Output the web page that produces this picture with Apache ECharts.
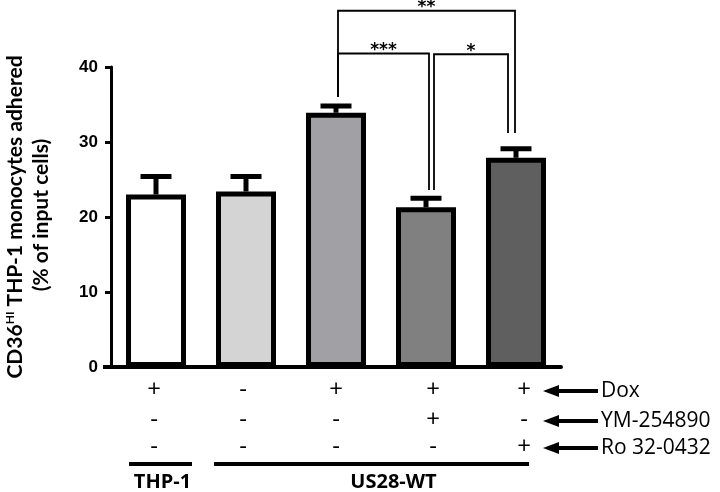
<!DOCTYPE html>
<html><head><meta charset="utf-8">
<script src="https://cdn.jsdelivr.net/npm/echarts@6/dist/echarts.min.js"></script>
<style>html,body{margin:0;padding:0;background:#fff}#c{width:720px;height:492px}</style>
</head><body><div id="c"></div>
<script>
// ---- data ----
const categories = ['THP-1', 'US28-WT', 'US28-WT + Dox', 'US28-WT + Dox + YM-254890', 'US28-WT + Dox + Ro 32-0432'];
const means = [23.0, 23.4, 33.9, 21.3, 27.9];
const sems = [2.4, 2.0, 0.9, 1.2, 1.2];
const yTicks = [0, 10, 20, 30, 40];
const yTitleMain = 'CD36';
const yTitleSup = 'HI';
const yTitleRest = ' THP-1 monocytes adhered';
const yTitleLine2 = '(% of input cells)';
const treatments = ['Dox', 'YM-254890', 'Ro 32-0432'];
const doxSigns = ['+', '-', '+', '+', '+'];
const ymSigns = ['-', '-', '-', '+', '-'];
const roSigns = ['-', '-', '-', '-', '+'];
const groupNames = ['THP-1', 'US28-WT'];
// comparisons: [fromIndex, toIndex, bracketLevel, fromDrop, toDrop]
const comparisons = [[2, 4, 47.5, 36.0, 31.2], [2, 3, 41.8, 36.0, 23.6], [3, 4, 41.7, 23.6, 31.2]];
const comparisonLabels = ['**', '***', '*'];

// ---- styles ----
const barColors = ['#ffffff', '#d4d4d4', '#a1a1a5', '#808080', '#5f5f5f'];
const bracketOffsets = [[2, -1], [2, 3], [8, -8]];
const signOffsets = [-2, -3, 0, 7, 8];
const rowY = [390, 420, 447];

const chart = echarts.init(document.getElementById('c'));

chart.setOption({
  animation: false,
  backgroundColor: '#fff',
  grid: { left: 111, top: 67, width: 450, height: 300, outerBoundsMode: 'none', containLabel: false },
  xAxis: {
    type: 'category', data: categories,
    axisLine: { lineStyle: { color: '#000', width: 4 } },
    axisTick: { show: false }, axisLabel: { show: false }
  },
  yAxis: {
    type: 'value', min: 0, max: 40, interval: 10,
    axisLine: { show: true, lineStyle: { color: '#000', width: 3 } },
    axisTick: { show: true, length: 6, lineStyle: { color: '#000', width: 3 } },
    splitLine: { show: false },
    axisLabel: { margin: 13, color: '#000', fontFamily: 'Liberation Sans', fontWeight: 'bold', fontSize: 17,
      formatter: v => yTicks.includes(v) ? String(v) : '' }
  },
  series: [
    {
      type: 'bar', barWidth: 60, z: 2,
      data: means.map((v, i) => ({ value: v, itemStyle: { color: barColors[i], borderColor: '#000', borderWidth: 5 } }))
    },
    {
      type: 'custom', z: 3,
      data: means.map((m, i) => [i, m, sems[i]]),
      renderItem: (params, api) => {
        const x = api.value(0), m = api.value(1), e = api.value(2);
        const p0 = api.coord([x, m]);
        const p1 = api.coord([x, m + e]);
        return { type: 'group', children: [
          { type: 'rect', shape: { x: p0[0] - 2.5, y: p1[1], width: 5, height: p0[1] - p1[1] }, style: { fill: '#000' } },
          { type: 'rect', shape: { x: p0[0] - 15.5, y: p1[1] - 2.5, width: 31, height: 5 }, style: { fill: '#000' } }
        ] };
      }
    },
    {
      type: 'custom', z: 4, clip: false,
      data: comparisons,
      renderItem: (params, api) => {
        const i = params.dataIndex;
        const a = api.value(0), b = api.value(1), lvl = api.value(2), da = api.value(3), db = api.value(4);
        const off = bracketOffsets[i];
        const pa = api.coord([a, da]), pb = api.coord([b, db]);
        const pl = api.coord([a, lvl]);
        const xa = pa[0] + off[0], xb = pb[0] + off[1];
        return { type: 'group', children: [
          { type: 'polyline', shape: { points: [[xa, pa[1]], [xa, pl[1]], [xb, pl[1]], [xb, pb[1]]] },
            style: { stroke: '#000', lineWidth: 1.8, fill: null } },
          { type: 'text', x: (xa + xb) / 2, y: pl[1] - 3, style: { text: comparisonLabels[i], fill: '#000',
            font: 'bold 17px "DejaVu Sans"', align: 'center', verticalAlign: 'middle' } }
        ] };
      }
    }
  ]
});

// ---- annotations ----
const g = [];
const y0 = chart.convertToPixel({ yAxisIndex: 0 }, 0);
const yMid = (chart.convertToPixel({ yAxisIndex: 0 }, 0) + chart.convertToPixel({ yAxisIndex: 0 }, 40)) / 2;
const gridLeft = chart.convertToPixel({ xAxisIndex: 0 }, 0) - 45;
g.push({ type: 'rect', shape: { x: gridLeft - 8, y: y0 - 2, width: 9, height: 4 }, style: { fill: '#000' } });
// y-axis title (rotated)
g.push({ type: 'text', x: 15, y: yMid, rotation: Math.PI / 2, style: {
  text: '{b|' + yTitleMain + '}{s|' + yTitleSup + '}{b|' + yTitleRest + '}', align: 'center', verticalAlign: 'middle',
  rich: { b: { font: 'bold 21px Lato', fill: '#000' }, s: { font: 'bold 12px Lato', fill: '#000', padding: [0, 0, 9, 0] } } } });
g.push({ type: 'text', x: 41, y: yMid - 2, rotation: Math.PI / 2, style: {
  text: yTitleLine2, font: 'bold 21px Lato', fill: '#000', align: 'center', verticalAlign: 'middle' } });

const rows = [doxSigns, ymSigns, roSigns];
rows.forEach((row, r) => {
  row.forEach((s, i) => {
    const x = chart.convertToPixel({ xAxisIndex: 0 }, i) + signOffsets[i];
    g.push({ type: 'text', x: x, y: rowY[r], style: { text: s, fill: '#000', font: '24px "Open Sans"', align: 'center', verticalAlign: 'middle' } });
  });
  g.push({ type: 'polygon', shape: { points: [[543, rowY[r] + 1], [559, rowY[r] - 5], [559, rowY[r] + 7]] }, style: { fill: '#000' } });
  g.push({ type: 'rect', shape: { x: 557, y: rowY[r] - 1, width: 41, height: 4 }, style: { fill: '#000' } });
  g.push({ type: 'text', x: 601, y: rowY[r] + 1, style: { text: treatments[r], fill: '#000', font: '21px "Open Sans"', align: 'left', verticalAlign: 'middle' } });
});
const spanPx = [[129, 192], [214, 529]];
groupNames.forEach((name, k) => {
  const s = spanPx[k];
  g.push({ type: 'rect', shape: { x: s[0], y: 462, width: s[1] - s[0], height: 4 }, style: { fill: '#000' } });
  g.push({ type: 'text', x: (s[0] + s[1]) / 2 + (k === 1 ? 22 : 2), y: 482, style: { text: name, fill: '#000', font: 'bold 20px "Open Sans"', align: 'center', verticalAlign: 'middle' } });
});
chart.setOption({ graphic: g });
</script></body></html>
